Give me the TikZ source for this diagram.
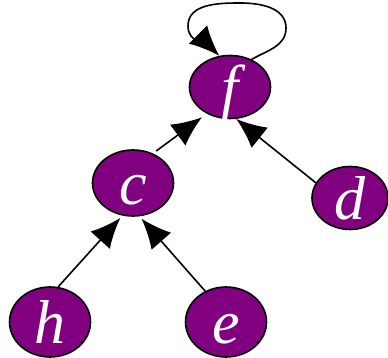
\documentclass[tikz,border=0pt]{standalone}
\usepackage{fontspec}
\setmainfont{Liberation Serif}
\usepackage{xcolor}
\usepackage{tikz}
\usetikzlibrary{shapes, arrows.meta, positioning, calc}
\definecolor{nodepurple}{RGB}{128,0,128}

\begin{document}
\begin{tikzpicture}[
   x=1pt, y=1pt,
   vertex/.style={ellipse, draw=black, line width=1.6pt, fill=nodepurple, minimum width=81pt, minimum height=63pt, inner sep=0pt, text=white, font=\fontsize{62}{62}\selectfont\itshape, text height=44pt, text depth=0pt},
   edge/.style={-{Latex[length=30pt,width=26pt]}, line width=1.6pt}
]
   \useasboundingbox (0,0) rectangle (388,358);

   % Vertices
   \node[vertex] (f) at (230,271) {f};
   \node[vertex, minimum height=66pt] (c) at (133,175) {c};
   \node[vertex, minimum width=76pt] (d) at (350,160) {d};
   \node[vertex, minimum height=70pt] (h) at (50,36) {h};
   \node[vertex, minimum height=70pt] (e) at (226,36) {e};

   % Edges
   \draw[edge, shorten >=3pt] (h.77) -- (c.252);
   \draw[edge, shorten >=3pt] (e.124) -- (c.281);
   \draw[edge, shorten <=4pt, shorten >=6pt] (c.56) -- (f.229);
   \draw[edge] (d.156) -- (f.281);

   % Self loop on f
   \draw[edge] (f.52) to[out=30, in=-90] (286,330) to[out=90, in=0] (240,355)
      to[out=180, in=90] (188,332) to[out=-90, in=135] (f.109);
\end{tikzpicture}
\end{document}
